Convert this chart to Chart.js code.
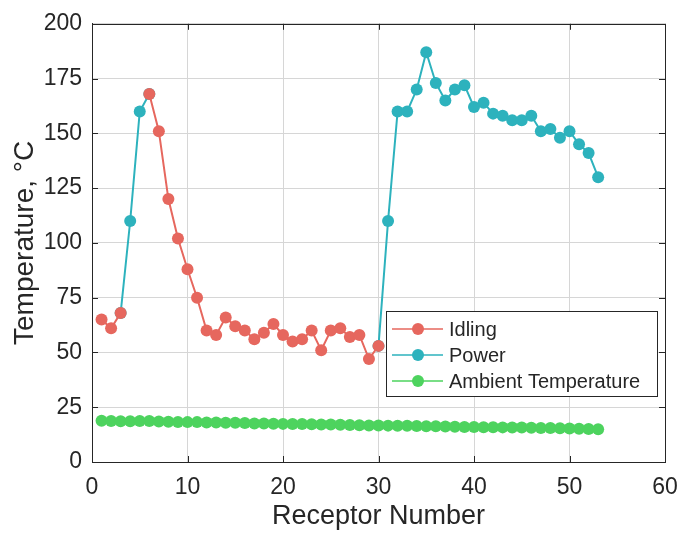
<!DOCTYPE html>
<html>
<head>
<meta charset="utf-8">
<script src="https://cdn.jsdelivr.net/npm/chart.js@4.4.1/dist/chart.umd.min.js"></script>
<style>
  body { margin: 0; background: #fff; }
  #wrap { width: 681px; height: 533px; }
</style>
</head>
<body>
<div id="wrap"><canvas id="myChart" width="681" height="533"></canvas></div>
<script>
const receptors = [1, 2, 3, 4, 5, 6, 7, 8, 9, 10, 11, 12, 13, 14, 15, 16, 17, 18, 19, 20,
    21, 22, 23, 24, 25, 26, 27, 28, 29, 30, 31, 32, 33, 34, 35, 36, 37, 38, 39, 40,
    41, 42, 43, 44, 45, 46, 47, 48, 49, 50, 51, 52, 53];

const idling = [65, 61, 68, null, null, 168, 151, 120, 102, 88, 75, 60, 58, 66, 62, 60, 56, 59, 63, 58,
    55, 56, 60, 51, 60, 61, 57, 58, 47, 53, null, null, null, null, null, null, null, null, null, null,
    null, null, null, null, null, null, null, null, null, null, null, null, null];

const power = [null, null, 68, 110, 160, 168, null, null, null, null, null, null, null, null, null, null, null, null, null, null,
    null, null, null, null, null, null, null, null, null, 53, 110, 160, 160, 170, 187, 173, 165, 170, 172, 162,
    164, 159, 158, 156, 156, 158, 151, 152, 148, 151, 145, 141, 130];

const ambient = [18.8, 18.7, 18.6, 18.6, 18.7, 18.7, 18.5, 18.4, 18.3, 18.2, 18.2, 18.0, 18.0, 17.9, 17.9, 17.8, 17.6, 17.6, 17.5, 17.4,
    17.3, 17.3, 17.2, 17.1, 17.1, 17.0, 16.9, 16.8, 16.7, 16.7, 16.6, 16.5, 16.5, 16.4, 16.3, 16.3, 16.2, 16.1, 16.0, 16.0,
    15.9, 15.9, 15.8, 15.7, 15.7, 15.6, 15.5, 15.5, 15.4, 15.3, 15.2, 15.1, 15.0];

const xTicks = [0, 10, 20, 30, 40, 50, 60];
const yTicks = [0, 25, 50, 75, 100, 125, 150, 175, 200];

const FONT = "'Liberation Sans', Arial, sans-serif";
const INK = '#262626';

function pts(values) {
    return receptors.map((r, i) => ({ x: r, y: values[i] }));
}

// box round the plot with MATLAB style inward ticks
const boxPlugin = {
    id: 'box',
    afterDatasetsDraw(chart) {
        const { ctx, chartArea: a, scales } = chart;
        ctx.save();
        ctx.strokeStyle = INK;
        ctx.lineWidth = 1;
        ctx.beginPath();
        xTicks.forEach(v => {
            const x = Math.round(scales.x.getPixelForValue(v)) + 0.5;
            ctx.moveTo(x, a.bottom); ctx.lineTo(x, a.bottom - 6);
            ctx.moveTo(x, a.top); ctx.lineTo(x, a.top + 6);
        });
        yTicks.forEach(v => {
            const y = Math.round(scales.y.getPixelForValue(v)) + 0.5;
            ctx.moveTo(a.left, y); ctx.lineTo(a.left + 6, y);
            ctx.moveTo(a.right, y); ctx.lineTo(a.right - 6, y);
        });
        ctx.stroke();
        ctx.strokeRect(Math.round(a.left) + 0.5, Math.round(a.top) + 0.5,
            Math.round(a.right - a.left), Math.round(a.bottom - a.top));
        ctx.restore();
    }
};

// legend drawn inside the axes, like the original
const legendPlugin = {
    id: 'boxLegend',
    afterDraw(chart) {
        const { ctx } = chart;
        const left = 386.5, top = 311.5, w = 271, h = 85;
        ctx.save();
        ctx.fillStyle = '#fff';
        ctx.fillRect(left, top, w, h);
        ctx.strokeStyle = INK;
        ctx.lineWidth = 1;
        ctx.strokeRect(left, top, w, h);
        const rows = [329, 355, 381];
        chart.data.datasets.forEach((ds, i) => {
            const y = rows[i];
            ctx.strokeStyle = ds.borderColor;
            ctx.lineWidth = 1.5;
            ctx.beginPath();
            ctx.moveTo(392, y); ctx.lineTo(443, y);
            ctx.stroke();
            ctx.fillStyle = ds.pointBackgroundColor;
            ctx.beginPath();
            ctx.arc(418, y, ds.pointRadius, 0, Math.PI * 2);
            ctx.fill();
            ctx.fillStyle = INK;
            ctx.font = '20px ' + FONT;
            ctx.textBaseline = 'middle';
            ctx.textAlign = 'left';
            ctx.fillText(ds.label, 449, y + 1);
        });
        ctx.restore();
    }
};

const config = {
    type: 'line',
    data: {
        datasets: [{
            label: 'Idling',
            data: pts(idling),
            borderColor: '#e6675e',
            backgroundColor: '#e6675e',
            pointBackgroundColor: '#e6675e',
            pointBorderWidth: 0,
            pointRadius: 6,
            borderWidth: 2,
            spanGaps: false
        }, {
            label: 'Power',
            data: pts(power),
            borderColor: '#2db2bd',
            backgroundColor: '#2db2bd',
            pointBackgroundColor: '#2db2bd',
            pointBorderWidth: 0,
            pointRadius: 6,
            borderWidth: 2,
            spanGaps: false
        }, {
            label: 'Ambient Temperature',
            data: pts(ambient),
            borderColor: '#4dd35e',
            backgroundColor: '#4dd35e',
            pointBackgroundColor: '#4dd35e',
            pointBorderWidth: 0,
            pointRadius: 6,
            borderWidth: 1
        }]
    },
    options: {
        responsive: false,
        animation: false,
        layout: { padding: { top: 22, right: 16, left: 0, bottom: 0 } },
        plugins: {
            legend: { display: false },
            tooltip: { enabled: false }
        },
        scales: {
            x: {
                type: 'linear',
                min: 0,
                max: 60,
                afterFit(scale) {
                    scale.height = 71;
                    scale.paddingLeft = 0;
                    scale.paddingRight = 0;
                },
                afterBuildTicks(scale) { scale.ticks = xTicks.map(v => ({ value: v })); },
                ticks: {
                    font: { size: 23, family: FONT },
                    color: INK,
                    padding: 12,
                    maxRotation: 0
                },
                grid: { color: '#d6d6d6', drawTicks: false },
                border: { color: INK },
                title: {
                    display: true,
                    text: 'Receptor Number',
                    font: { size: 27, family: FONT },
                    color: INK,
                    padding: { top: 0, bottom: 0 }
                }
            },
            y: {
                min: 0,
                max: 200,
                afterFit(scale) { scale.width = 92; },
                afterBuildTicks(scale) { scale.ticks = yTicks.map(v => ({ value: v })); },
                ticks: {
                    font: { size: 23, family: FONT },
                    color: INK,
                    padding: 10
                },
                grid: { color: '#d6d6d6', drawTicks: false },
                border: { color: INK },
                title: {
                    display: true,
                    text: 'Temperature, °C',
                    font: { size: 28, family: FONT },
                    color: INK,
                    padding: { top: 8, bottom: 0 }
                }
            }
        }
    },
    plugins: [boxPlugin, legendPlugin]
};

const myChart = new Chart(
    document.getElementById('myChart'),
    config
);
</script>
</body>
</html>
